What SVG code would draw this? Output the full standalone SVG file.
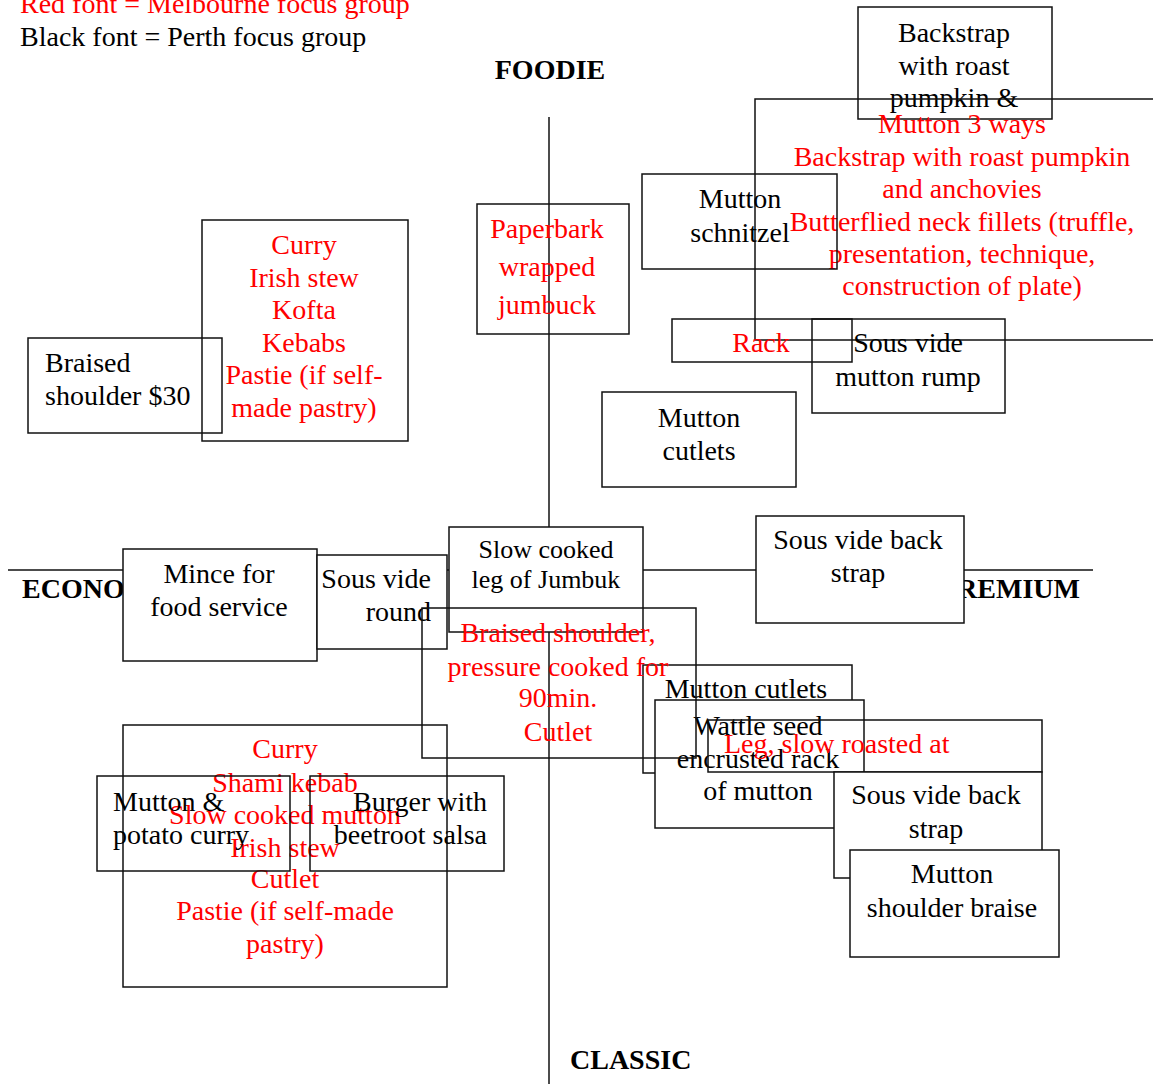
<svg xmlns="http://www.w3.org/2000/svg" width="1153" height="1084" viewBox="0 0 1153 1084">
<style>
text{font-family:"Liberation Serif","Times New Roman",serif;font-size:28px;}
.r{fill:#ff0000}
.k{fill:#000}
.b{font-weight:bold}
.m{text-anchor:middle}
.e{text-anchor:end}
.bx{fill:none;stroke:#111;stroke-width:1.5}
.bw{fill:#fff;stroke:#111;stroke-width:1.5}
.ax{stroke:#111;stroke-width:1.5;fill:none}
</style>
<rect width="1153" height="1084" fill="#fff"/>
<g id="axes">
<line class="ax" x1="549" y1="117" x2="549" y2="1084"/>
<line class="ax" x1="8" y1="570" x2="1093" y2="570"/>
</g>
<g id="axis-labels">
<text class="k b m" x="550" y="79">FOODIE</text>
<text class="k b" x="570" y="1069">CLASSIC</text>
<text class="k b" x="22" y="598">ECONOMY</text>
<text class="k b e" x="1080" y="598">PREMIUM</text>
</g>
<g id="legend">
<text class="r" x="20" y="13">Red font = Melbourne focus group</text>
<text class="k" x="20" y="46">Black font = Perth focus group</text>
</g>
<g id="backstrap-top">
<rect class="bx" x="858" y="7" width="194" height="112"/>
<text class="k m" x="954" y="42">Backstrap</text>
<text class="k m" x="954" y="75">with roast</text>
<text class="k m" x="954" y="107">pumpkin &amp;</text>
</g>
<g id="mutton-3-ways">
<rect class="bx" x="755" y="99" width="405" height="241"/>
<text class="r m" x="962" y="133">Mutton 3 ways</text>
<text class="r m" x="962" y="166">Backstrap with roast pumpkin</text>
<text class="r m" x="962" y="198">and anchovies</text>
<text class="r m" x="962" y="231">Butterflied neck fillets (truffle,</text>
<text class="r m" x="962" y="263">presentation, technique,</text>
<text class="r m" x="962" y="295">construction of plate)</text>
</g>
<g id="mutton-schnitzel">
<rect class="bx" x="642" y="174" width="195" height="95"/>
<text class="k m" x="740" y="208">Mutton</text>
<text class="k m" x="740" y="242">schnitzel</text>
</g>
<g id="paperbark">
<rect class="bx" x="477" y="204" width="152" height="130"/>
<text class="r m" x="547" y="238">Paperbark</text>
<text class="r m" x="547" y="276">wrapped</text>
<text class="r m" x="547" y="314">jumbuck</text>
</g>
<g id="curry-top">
<rect class="bx" x="202" y="220" width="206" height="221"/>
<text class="r m" x="304" y="254">Curry</text>
<text class="r m" x="304" y="287">Irish stew</text>
<text class="r m" x="304" y="319">Kofta</text>
<text class="r m" x="304" y="352">Kebabs</text>
<text class="r m" x="304" y="384">Pastie (if self-</text>
<text class="r m" x="304" y="417">made pastry)</text>
</g>
<g id="braised-30">
<rect class="bx" x="28" y="338" width="194" height="95"/>
<text class="k" x="45" y="372">Braised</text>
<text class="k" x="45" y="405">shoulder $30</text>
</g>
<g id="rack">
<rect class="bx" x="672" y="319" width="180" height="43"/>
<text class="r m" x="761" y="352">Rack</text>
</g>
<g id="sous-vide-rump">
<rect class="bx" x="812" y="319" width="193" height="94"/>
<text class="k m" x="908" y="352">Sous vide</text>
<text class="k m" x="908" y="386">mutton rump</text>
</g>
<g id="mutton-cutlets-top">
<rect class="bx" x="602" y="392" width="194" height="95"/>
<text class="k m" x="699" y="427">Mutton</text>
<text class="k m" x="699" y="460">cutlets</text>
</g>
<g id="mince">
<rect class="bw" x="123" y="549" width="194" height="112"/>
<text class="k m" x="219" y="583">Mince for</text>
<text class="k m" x="219" y="616">food service</text>
</g>
<g id="sous-vide-round">
<rect class="bw" x="317" y="555" width="130" height="94"/>
<text class="k e" x="431" y="588">Sous vide</text>
<text class="k e" x="431" y="621">round</text>
</g>
<g id="slow-cooked">
<rect class="bw" x="449" y="527" width="194" height="105"/>
<text class="k m" x="546" y="558" style="font-size:26px">Slow cooked</text>
<text class="k m" x="546" y="588" style="font-size:26px">leg of Jumbuk</text>
</g>
<g id="sous-vide-back-strap-top">
<rect class="bw" x="756" y="516" width="208" height="107"/>
<text class="k m" x="858" y="549">Sous vide back</text>
<text class="k m" x="858" y="582">strap</text>
</g>
<g id="mutton-cutlets-low">
<rect class="bx" x="643" y="665" width="209" height="108"/>
<text class="k m" x="746" y="698">Mutton cutlets</text>
</g>
<g id="wattle-seed">
<rect class="bw" x="655" y="700" width="209" height="128"/>
<text class="k m" x="758" y="735">Wattle seed</text>
<text class="k m" x="758" y="768">encrusted rack</text>
<text class="k m" x="758" y="800">of mutton</text>
</g>
<g id="leg-slow-roasted">
<rect class="bx" x="708" y="720" width="334" height="52"/>
<text class="r" x="724" y="753">Leg, slow roasted at</text>
</g>
<g id="braised-shoulder-pressure">
<rect class="bx" x="422" y="608" width="274" height="150"/>
<text class="r m" x="558" y="642">Braised shoulder,</text>
<text class="r m" x="558" y="676">pressure cooked for</text>
<text class="r m" x="558" y="707">90min.</text>
<text class="r m" x="558" y="741">Cutlet</text>
</g>
<g id="sous-vide-back-strap-low">
<rect class="bw" x="834" y="772" width="208" height="106"/>
<text class="k m" x="936" y="804">Sous vide back</text>
<text class="k m" x="936" y="838">strap</text>
</g>
<g id="mutton-shoulder-braise">
<rect class="bw" x="850" y="850" width="209" height="107"/>
<text class="k m" x="952" y="883">Mutton</text>
<text class="k m" x="952" y="917">shoulder braise</text>
</g>
<g id="curry-low">
<rect class="bx" x="123" y="725" width="324" height="262"/>
<text class="r m" x="285" y="758">Curry</text>
<text class="r m" x="285" y="792">Shami kebab</text>
<text class="r m" x="285" y="824">Slow cooked mutton</text>
<text class="r m" x="285" y="857">Irish stew</text>
<text class="r m" x="285" y="888">Cutlet</text>
<text class="r m" x="285" y="920">Pastie (if self-made</text>
<text class="r m" x="285" y="953">pastry)</text>
</g>
<g id="mutton-potato-curry">
<rect class="bx" x="97" y="776" width="193" height="95"/>
<text class="k" x="113" y="811">Mutton &amp;</text>
<text class="k" x="113" y="844">potato curry</text>
</g>
<g id="burger">
<rect class="bx" x="310" y="776" width="194" height="95"/>
<text class="k e" x="487" y="811">Burger with</text>
<text class="k e" x="487" y="844">beetroot salsa</text>
</g>
</svg>
